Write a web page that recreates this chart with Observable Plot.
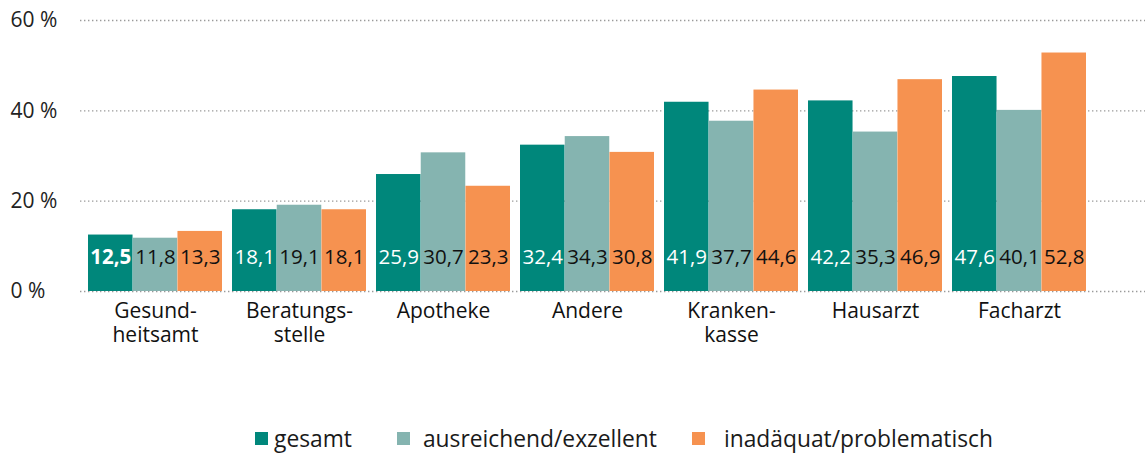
<!DOCTYPE html>
<html>
<head>
<meta charset="utf-8">
<script src="https://cdn.jsdelivr.net/npm/d3@7"></script>
<script src="https://cdn.jsdelivr.net/npm/@observablehq/plot@0.6"></script>
<style>
  html, body { margin: 0; padding: 0; background: #fff; }
  body { width: 1145px; height: 456px; position: relative; overflow: hidden; font-family: "Open Sans", sans-serif; }
  #chart svg { display: block; }
  #legend { position: absolute; left: 255px; top: 423px; display: flex; align-items: center; font-size: 22.8px; color: #1a1a1a; font-family: "Open Sans", sans-serif; white-space: nowrap; }
  #legend .item { display: flex; align-items: center; }
  #legend .sw { width: 13px; height: 13px; }
</style>
</head>
<body>
<div id="chart"></div>
<div id="legend"></div>
<script>
// ---- data ----
const categories = ["Gesundheitsamt", "Beratungsstelle", "Apotheke", "Andere", "Krankenkasse", "Hausarzt", "Facharzt"];
const labelLine1 = ["Gesund-", "Beratungs-", "Apotheke", "Andere", "Kranken-", "Hausarzt", "Facharzt"];
const labelLine2 = ["heitsamt", "stelle", "", "", "kasse", "", ""];
const seriesNames = ["gesamt", "ausreichend/exzellent", "inadäquat/problematisch"];
const gesamt = [12.5, 18.1, 25.9, 32.4, 41.9, 42.2, 47.6];
const ausreichend = [11.8, 19.1, 30.7, 34.3, 37.7, 35.3, 40.1];
const inadaequat = [13.3, 18.1, 23.3, 30.8, 44.6, 46.9, 52.8];
const yTicks = [0, 20, 40, 60];
const seriesColors = ["#00877b", "#85b4b0", "#f69250"];

const seriesValues = [gesamt, ausreichend, inadaequat];
const rows = [];
seriesValues.forEach((vals, j) => {
  vals.forEach((v, i) => rows.push({category: categories[i], series: seriesNames[j], s: j, value: v}));
});
const catRows1 = categories.map((c, i) => ({category: c, label: labelLine1[i]}));
const catRows2 = categories.map((c, i) => ({category: c, label: labelLine2[i]})).filter(d => d.label);
const fmt = v => d3.format(".1f")(v).replace(".", ",");

// ---- layout ----
const xRange = [87, 1087];
const padInner = 0.07;
const bw = (xRange[1] - xRange[0]) / (categories.length - padInner) * (1 - padInner);
const third = bw / 3;
const font = '"Open Sans", sans-serif';

const marks = [
  Plot.ruleY(yTicks, {stroke: "#9a9a9a", strokeWidth: 1.3, strokeDasharray: "1.4,2.6"})
];
seriesNames.forEach((name, j) => {
  marks.push(Plot.barY(rows.filter(d => d.s === j), {
    x: "category", y: "value", fill: seriesColors[j],
    insetLeft: j * third, insetRight: (2 - j) * third
  }));
});
seriesNames.forEach((name, j) => {
  const sub = rows.filter(d => d.s === j);
  const normal = j === 0 ? sub.filter(d => d.category !== "Gesundheitsamt") : sub;
  marks.push(Plot.text(normal, {
    x: "category", text: d => fmt(d.value), frameAnchor: "bottom",
    dx: (j - 1) * third, dy: -34, lineAnchor: "middle",
    fill: j === 0 ? "white" : "#111", fontSize: 20.5
  }));
  if (j === 0) {
    marks.push(Plot.text(sub.filter(d => d.category === "Gesundheitsamt"), {
      x: "category", text: d => fmt(d.value), frameAnchor: "bottom",
      dx: (j - 1) * third, dy: -34, lineAnchor: "middle",
      fill: "white", fontSize: 20.5, fontWeight: "bold"
    }));
  }
});
marks.push(Plot.text(catRows1, {
  x: "category", text: "label", frameAnchor: "bottom", lineAnchor: "top",
  dy: 12, fill: "#111", fontSize: 21
}));
marks.push(Plot.text(catRows2, {
  x: "category", text: "label", frameAnchor: "bottom", lineAnchor: "top",
  dy: 36, fill: "#111", fontSize: 21
}));
marks.push(Plot.text(yTicks, {
  y: d => d, text: d => d + "\u00a0%", frameAnchor: "left", textAnchor: "start",
  dx: -70, fill: "#222", fontSize: 21
}));

const chart = Plot.plot({
  width: 1145,
  height: 420,
  marginLeft: 80,
  marginRight: 0,
  marginTop: 20,
  marginBottom: 129,
  style: {fontFamily: font, background: "white", overflow: "visible"},
  x: {type: "band", domain: categories, range: xRange, paddingInner: padInner, paddingOuter: 0, axis: null},
  y: {domain: [0, 60], axis: null},
  marks
});
document.getElementById("chart").appendChild(chart);

const swatchGaps = [6, 13, 19];
const itemGaps = [45, 35, 0];
const legend = document.getElementById("legend");
seriesNames.forEach((name, j) => {
  const item = document.createElement("div");
  item.className = "item";
  item.style.marginRight = itemGaps[j] + "px";
  const sw = document.createElement("span");
  sw.className = "sw";
  sw.style.background = seriesColors[j];
  sw.style.marginRight = swatchGaps[j] + "px";
  const t = document.createElement("span");
  t.textContent = name;
  item.appendChild(sw);
  item.appendChild(t);
  legend.appendChild(item);
});
</script>
</body>
</html>
